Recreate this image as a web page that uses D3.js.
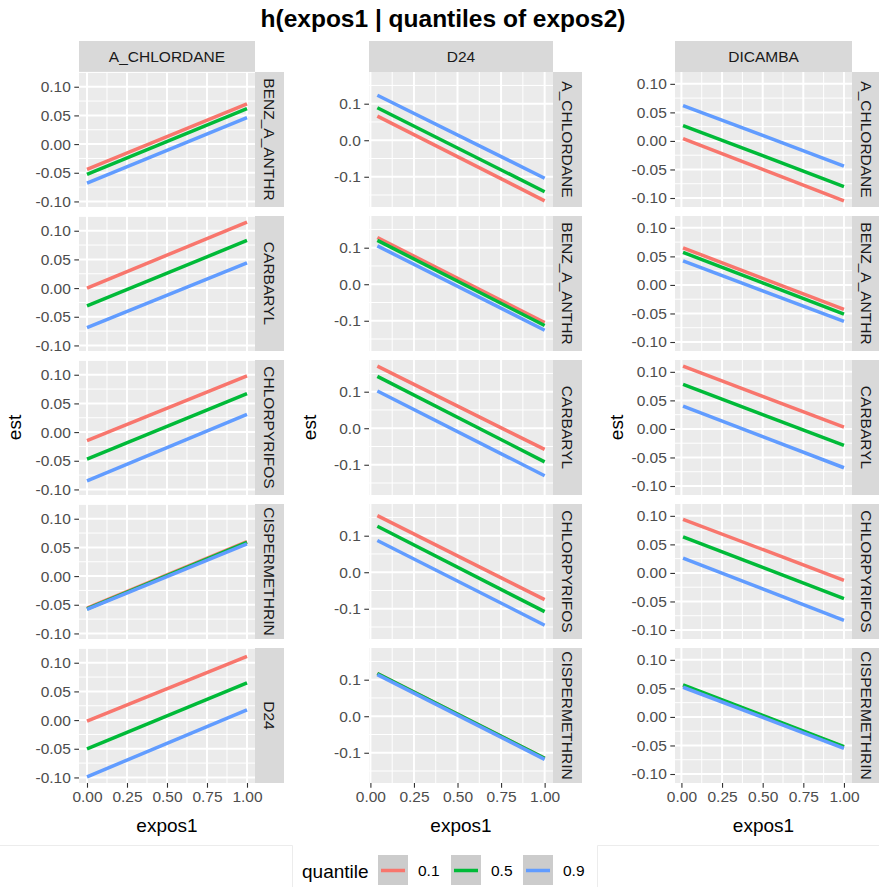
<!DOCTYPE html>
<html>
<head>
<meta charset="utf-8">
<script src="https://cdn.jsdelivr.net/npm/d3@7"></script>
<style>
  html, body { margin: 0; padding: 0; background: #fff; }
  svg { display: block; font-family: "Liberation Sans", Arial, Helvetica, sans-serif; }
</style>
</head>
<body>
<svg id="chart" width="879" height="887"></svg>
<script>
// ---------------- data ----------------
const chartTitle = "h(expos1 | quantiles of expos2)";
const quantiles = ["0.1", "0.5", "0.9"];
const quantileColors = ["#F8766D", "#00BA38", "#619CFF"];
const columnFacets = ["A_CHLORDANE", "D24", "DICAMBA"];
const rowFacets = [
  ["BENZ_A_ANTHR", "CARBARYL", "CHLORPYRIFOS", "CISPERMETHRIN", "D24"],
  ["A_CHLORDANE", "BENZ_A_ANTHR", "CARBARYL", "CHLORPYRIFOS", "CISPERMETHRIN"],
  ["A_CHLORDANE", "BENZ_A_ANTHR", "CARBARYL", "CHLORPYRIFOS", "CISPERMETHRIN"]
];
// expos1 range of the lines in each column
const expos1Range = [[0.00, 1.00], [0.04, 1.00], [0.01, 1.00]];
// est at start and end of expos1 range: [column][row][quantile] = [start, end]
const estA_CHLORDANE = [
  [[-0.044, 0.070], [-0.053, 0.062], [-0.068, 0.046]],
  [[ 0.000, 0.115], [-0.031, 0.083], [-0.069, 0.044]],
  [[-0.015, 0.098], [-0.047, 0.067], [-0.085, 0.031]],
  [[-0.056, 0.060], [-0.057, 0.059], [-0.058, 0.056]],
  [[-0.002, 0.111], [-0.050, 0.065], [-0.099, 0.018]]
];
const estD24 = [
  [[0.066, -0.166], [0.089, -0.141], [0.123, -0.104]],
  [[0.128, -0.105], [0.120, -0.113], [0.105, -0.126]],
  [[0.170, -0.058], [0.142, -0.092], [0.102, -0.130]],
  [[0.155, -0.075], [0.126, -0.108], [0.087, -0.145]],
  [[0.117, -0.115], [0.117, -0.115], [0.114, -0.118]]
];
const estDICAMBA = [
  [[0.004, -0.105], [0.027, -0.080], [0.062, -0.044]],
  [[0.065, -0.043], [0.057, -0.051], [0.042, -0.064]],
  [[0.110,  0.003], [0.078, -0.029], [0.040, -0.068]],
  [[0.094, -0.013], [0.063, -0.045], [0.026, -0.083]],
  [[0.055, -0.053], [0.056, -0.052], [0.052, -0.055]]
];
const estValues = [estA_CHLORDANE, estD24, estDICAMBA];
const yTicks = [
  [-0.10, -0.05, 0.00, 0.05, 0.10],
  [-0.1, 0.0, 0.1],
  [-0.10, -0.05, 0.00, 0.05, 0.10]
];
const yTickDigits = [2, 1, 2];
const xTicks = [0, 0.25, 0.5, 0.75, 1];
const xLabel = "expos1";
const yLabel = "est";
const legendTitle = "quantile";

// ---------------- layout ----------------
const svg = d3.select("#chart");
const colLayout = [
  { left: 79, right: 255, titleX: 15 },
  { left: 369, right: 553, titleX: 310 },
  { left: 675, right: 852, titleX: 617 }
];
const stripW = 29, stripTop = 41, panelTop = 72, panelH = 135, panelGap = 9;
const nRows = 5;
const panelBottom = panelTop + nRows * panelH + (nRows - 1) * panelGap;
const fmt = (d, k) => { const s = d.toFixed(k); return s.replace("\u2212", "-"); };

function expand(ext) { const r = ext[1] - ext[0]; return [ext[0] - 0.05 * r, ext[1] + 0.05 * r]; }
function minorBreaks(ticks, domain) {
  const step = ticks[1] - ticks[0];
  const out = [];
  for (let i = -1; i < ticks.length; i++) {
    const v = ticks[0] + (i + 0.5) * step;
    if (v >= domain[0] && v <= domain[1]) out.push(v);
  }
  return out;
}

// faint frame lines near the legend
const frame = svg.append("g").attr("stroke", "#ececec").attr("stroke-width", 1).attr("fill", "none");
frame.append("path").attr("d", "M0,845.5H292.5V887");
frame.append("path").attr("d", "M879,845.5H597.5V887");

// title
svg.append("text").attr("x", 443).attr("y", 27).attr("text-anchor", "middle")
  .attr("font-size", 24.5).attr("font-weight", "bold").attr("fill", "#000").text(chartTitle);

columnFacets.forEach((colName, c) => {
  const L = colLayout[c];
  const vals = estValues[c];
  const xDom = expand(expos1Range[c]);
  const allY = vals.flat(2);
  const yDom = expand(d3.extent(allY));
  const x = d3.scaleLinear().domain(xDom).range([L.left, L.right]);
  const xMinor = minorBreaks(xTicks, xDom);
  const yMinor = minorBreaks(yTicks[c], yDom);
  const g = svg.append("g");

  // top strip
  g.append("rect").attr("x", L.left).attr("y", stripTop).attr("width", L.right - L.left)
    .attr("height", panelTop - stripTop).attr("fill", "#D9D9D9");
  g.append("text").attr("x", (L.left + L.right) / 2).attr("y", (stripTop + panelTop) / 2)
    .attr("dy", "0.36em").attr("text-anchor", "middle").attr("font-size", 15.5).attr("fill", "#1A1A1A")
    .text(colName);

  for (let r = 0; r < nRows; r++) {
    const top = panelTop + r * (panelH + panelGap);
    const y = d3.scaleLinear().domain(yDom).range([top + panelH, top]);
    const p = g.append("g");
    p.append("rect").attr("x", L.left).attr("y", top).attr("width", L.right - L.left)
      .attr("height", panelH).attr("fill", "#EBEBEB");
    // minor grid
    p.selectAll(".xm").data(xMinor).join("line")
      .attr("x1", d => x(d)).attr("x2", d => x(d)).attr("y1", top).attr("y2", top + panelH)
      .attr("stroke", "#fff").attr("stroke-width", 1);
    p.selectAll(".ym").data(yMinor).join("line")
      .attr("y1", d => y(d)).attr("y2", d => y(d)).attr("x1", L.left).attr("x2", L.right)
      .attr("stroke", "#fff").attr("stroke-width", 1);
    // major grid
    p.selectAll(".xM").data(xTicks).join("line")
      .attr("x1", d => x(d)).attr("x2", d => x(d)).attr("y1", top).attr("y2", top + panelH)
      .attr("stroke", "#fff").attr("stroke-width", 2);
    p.selectAll(".yM").data(yTicks[c]).join("line")
      .attr("y1", d => y(d)).attr("y2", d => y(d)).attr("x1", L.left).attr("x2", L.right)
      .attr("stroke", "#fff").attr("stroke-width", 2);

    // lines
    const line = d3.line().x(d => x(d[0])).y(d => y(d[1]));
    quantiles.forEach((q, k) => {
      const se = vals[r][k];
      const pts = [[expos1Range[c][0], se[0]], [expos1Range[c][1], se[1]]];
      p.append("path").attr("d", line(pts)).attr("fill", "none")
        .attr("stroke", quantileColors[k]).attr("stroke-width", 3.5);
    });

    // y axis
    const yAxis = d3.axisLeft(y).tickValues(yTicks[c]).tickSize(4.7).tickPadding(3.5)
      .tickFormat(d => fmt(d, yTickDigits[c]));
    const ya = p.append("g").attr("transform", `translate(${L.left},0)`).call(yAxis);
    ya.select(".domain").remove();
    ya.selectAll(".tick line").attr("stroke", "#333333").attr("stroke-width", 1.1);
    ya.selectAll(".tick text").attr("fill", "#4D4D4D").attr("font-size", 15.5)
      .attr("font-family", "'Liberation Sans', Arial, sans-serif");

    // right strip
    p.append("rect").attr("x", L.right).attr("y", top).attr("width", stripW).attr("height", panelH)
      .attr("fill", "#D9D9D9");
    p.append("text").attr("transform", `translate(${L.right + stripW / 2},${top + panelH / 2}) rotate(90)`)
      .attr("dy", "0.36em").attr("text-anchor", "middle").attr("font-size", 15.5).attr("fill", "#1A1A1A")
      .text(rowFacets[c][r]);
  }

  // x axis
  const xAxis = d3.axisBottom(x).tickValues(xTicks).tickSize(4.7).tickPadding(3.5)
    .tickFormat(d => fmt(d, 2));
  const xa = g.append("g").attr("transform", `translate(0,${panelBottom})`).call(xAxis);
  xa.select(".domain").remove();
  xa.selectAll(".tick line").attr("stroke", "#333333").attr("stroke-width", 1.1);
  xa.selectAll(".tick text").attr("fill", "#4D4D4D").attr("font-size", 15.5)
    .attr("font-family", "'Liberation Sans', Arial, sans-serif");

  // axis titles
  g.append("text").attr("x", (L.left + L.right) / 2).attr("y", 832).attr("text-anchor", "middle")
    .attr("font-size", 19).attr("fill", "#000").text(xLabel);
  g.append("text").attr("transform", `translate(${L.titleX + 6},${(panelTop + panelBottom) / 2}) rotate(-90)`)
    .attr("text-anchor", "middle").attr("font-size", 19).attr("fill", "#000").text(yLabel);
});

// legend
const lg = svg.append("g");
lg.append("text").attr("x", 302).attr("y", 871).attr("dy", "0.35em").attr("font-size", 19)
  .attr("fill", "#000").text(legendTitle);
const keyX = [378, 451, 523];
quantiles.forEach((q, k) => {
  lg.append("rect").attr("x", keyX[k]).attr("y", 855).attr("width", 30).attr("height", 30)
    .attr("fill", "#CCCCCC");
  lg.append("line").attr("x1", keyX[k] + 3).attr("x2", keyX[k] + 27).attr("y1", 870.5).attr("y2", 870.5)
    .attr("stroke", quantileColors[k]).attr("stroke-width", 3.5);
  lg.append("text").attr("x", keyX[k] + 40).attr("y", 871).attr("dy", "0.35em").attr("font-size", 15.5)
    .attr("fill", "#000").text(q);
});
</script>
</body>
</html>
